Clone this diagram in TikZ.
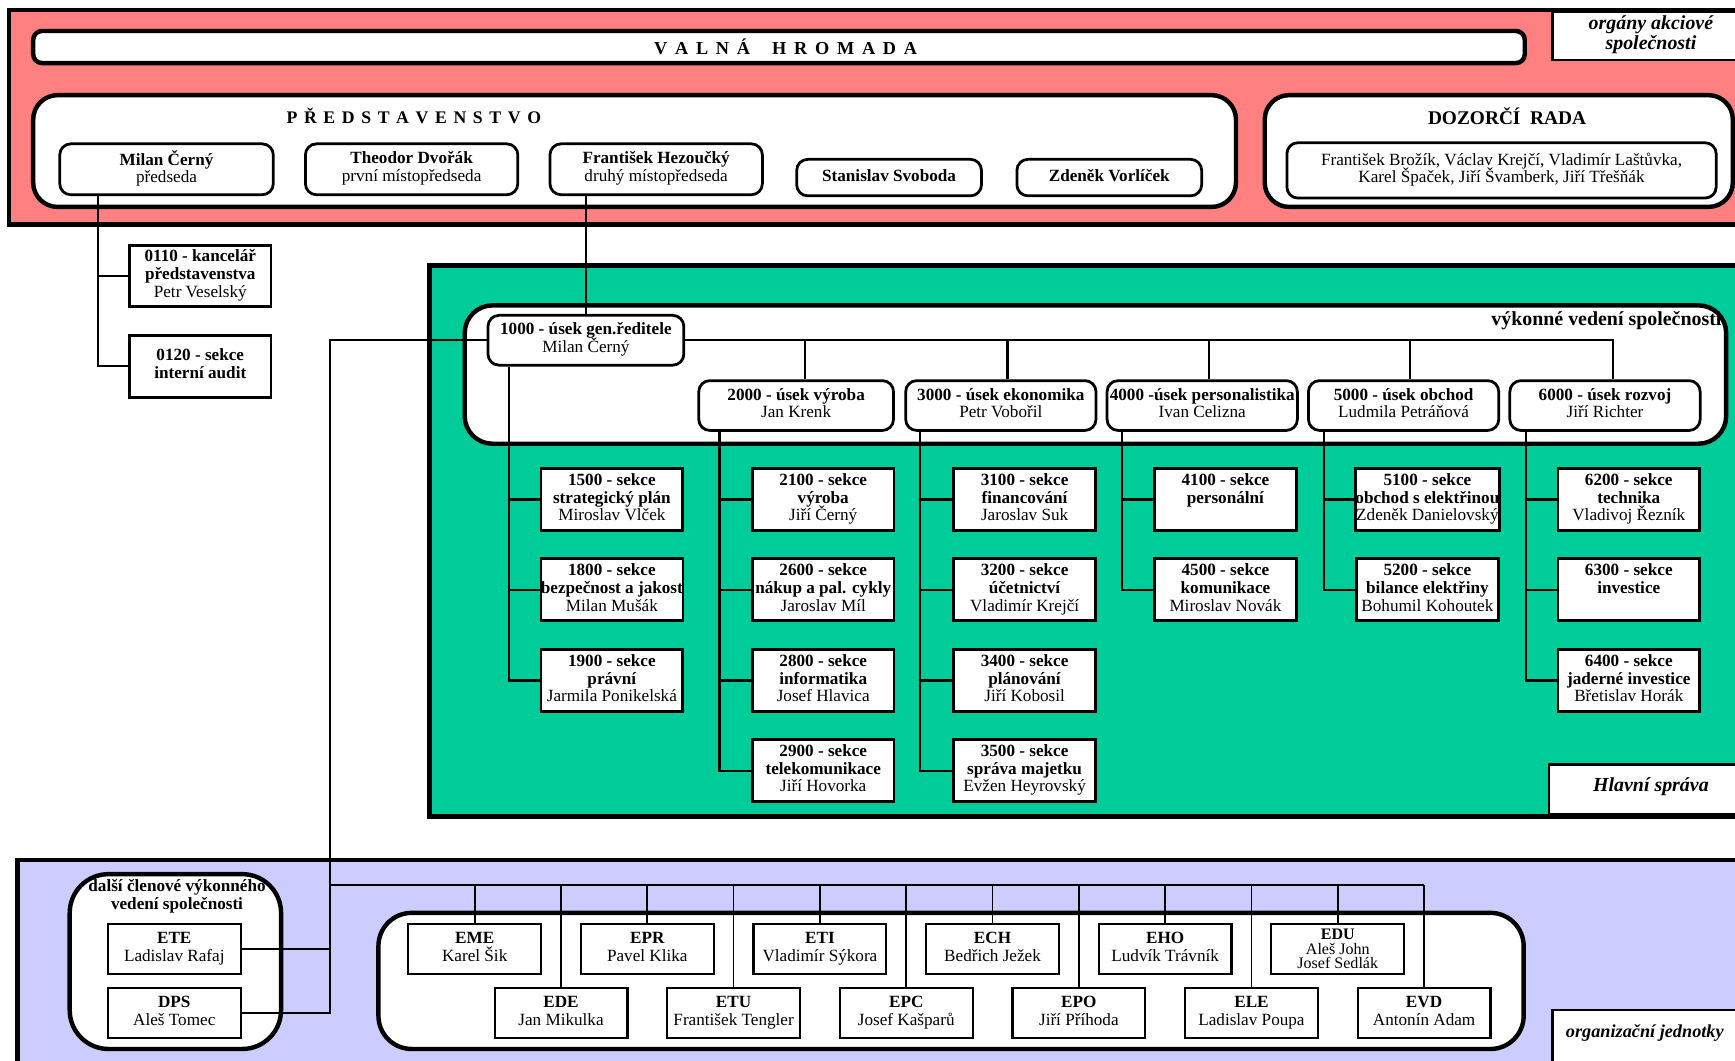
\documentclass[tikz,border=0pt]{standalone}
\usepackage{fontspec}
\setmainfont{Liberation Serif}
\usetikzlibrary{calc}
\definecolor{pinkbg}{HTML}{FF8080}
\definecolor{greenbg}{HTML}{00CC99}
\definecolor{lavbg}{HTML}{CCCCFF}
\lineskiplimit=-50pt
\lineskip=0pt
\newcommand\mybf[1]{\textbf{\strut #1}}
\newcommand\sectnode[6]{\node[sectbox] (#1) at (#2,#3) {\mybf{#4 - sekce}\\\mybf{#5}\\\strut #6};}
\newcommand\unitnode[5]{\node[unitbox] (#1) at (#2,#3) {\mybf{#4}\\\strut #5};}
\begin{document}
\begin{tikzpicture}[x=1pt,y=-1pt,
  font=\fontsize{15.5}{16}\selectfont,
  panel/.style={line width=4pt},
  cont/.style={draw, line width=4pt, fill=white},
  member/.style={draw, line width=2.5pt, rounded corners=10pt, fill=white, inner sep=0pt, align=center, minimum height=46pt},
  usek/.style={draw, line width=2.5pt, rounded corners=10pt, fill=white, inner sep=0pt, align=center, minimum height=45pt},
  sectbox/.style={draw, line width=2.5pt, fill=white, minimum width=128pt, minimum height=56pt, inner sep=0pt, align=center},
  unitbox/.style={draw, line width=2pt, fill=white, minimum width=120pt, minimum height=45pt, inner sep=0pt, align=center},
  labelbox/.style={draw, line width=2pt, fill=white},
  labeltext/.style={font=\fontsize{18}{18}\selectfont\bfseries\itshape, align=center},
  conn/.style={line width=2pt},
  thinconn/.style={line width=1.5pt}]
\useasboundingbox (0,0) rectangle (1568,958);
% ---------- panels ----------
\draw[panel, fill=pinkbg] (8,9) rectangle (1600,203);
\draw[panel, fill=greenbg] (388,240) rectangle (1600,738);
\draw[panel, fill=lavbg] (16,777) rectangle (1600,1000);
% ---------- corner labels ----------
\draw[labelbox] (1403,11) rectangle (1600,54);
\node[labeltext] (lblorg) at (1492,31) {orgány akciové\\společnosti};
\draw[labelbox] (1400,691) rectangle (1600,736);
\node[labeltext] (lblhs) at (1492,711) {Hlavní správa};
\draw[labelbox] (1403,913) rectangle (1600,1000);
\node[labeltext, font=\fontsize{16.5}{17}\selectfont\bfseries\itshape, anchor=west, inner sep=0pt] (lbloj) at (1415,934) {organizační jednotky};
% ---------- top ----------
\node[draw, line width=4pt, rounded corners=8pt, fill=white, minimum width=1348pt, minimum height=29pt, inner sep=0pt, font=\fontsize{16.5}{17}\selectfont] (vh) at (704,42.5)
  {\hspace{12pt}\textbf{V\hspace{7pt}A\hspace{7pt}L\hspace{7pt}N\hspace{7pt}Á\hspace{20pt}H\hspace{7pt}R\hspace{7pt}O\hspace{7pt}M\hspace{7pt}A\hspace{7pt}D\hspace{7pt}A}};
\draw[cont, rounded corners=22pt] (30,86) rectangle (1117,187);
\node[font=\fontsize{16}{16}\selectfont\bfseries] (pred) at (374,105)
  {P\hspace{6pt}Ř\hspace{6pt}E\hspace{6pt}D\hspace{6pt}S\hspace{6pt}T\hspace{6pt}A\hspace{6pt}V\hspace{6pt}E\hspace{6pt}N\hspace{6pt}S\hspace{6pt}T\hspace{6pt}V\hspace{6pt}O};
\node[member, minimum width=193pt] (m1) at (150.5,153) {\mybf{Milan Černý}\\\strut předseda};
\node[member, minimum width=192pt] (m2) at (372,153) {\mybf{Theodor Dvořák}\\\strut první místopředseda};
\node[member, minimum width=192pt] (m3) at (593,153) {\mybf{František Hezoučký}\\\strut druhý místopředseda};
\node[member, minimum width=167pt, minimum height=33pt] (m4) at (803.5,160.5) {\mybf{Stanislav Svoboda}};
\node[member, minimum width=167pt, minimum height=33pt] (m5) at (1002.5,160.5) {\mybf{Zdeněk Vorlíček}};
\draw[cont, rounded corners=22pt] (1143,86) rectangle (1566,187);
\node[font=\fontsize{17.5}{18}\selectfont\bfseries] (dr) at (1362,105) {DOZORČÍ\ \ RADA};
\node[member, minimum width=388pt, minimum height=50pt] (drm) at (1357,154)
  {\strut František Brožík, Václav Krejčí, Vladimír Laštůvka,\\\strut Karel Špaček, Jiří Švamberk, Jiří Třešňák};
% ---------- office boxes ----------
\node[sectbox, minimum height=55pt] (k0110) at (181,249.5) {\mybf{0110 - kancelář}\\\mybf{představenstva}\\\strut Petr Veselský};
\node[sectbox] (k0120) at (181,331) {\mybf{0120 - sekce}\\\mybf{interní audit}};
% ---------- executive ----------
\draw[cont, rounded corners=25pt] (420,276) rectangle (1560,401);
\node[font=\fontsize{18}{18}\selectfont\bfseries, anchor=east, inner sep=0pt] (vv) at (1556,290) {výkonné vedení společnosti};
\node[usek, minimum width=177pt] (u1000) at (529.5,307.5) {\mybf{1000 - úsek gen.ředitele}\\\strut Milan Černý};
\node[usek, minimum width=176pt] (u2000) at (719.5,366.5) {\mybf{2000 - úsek výroba}\\\strut Jan Krenk};
\node[usek, minimum width=172pt] (u3000) at (904.5,366.5) {\mybf{3000 - úsek ekonomika}\\\strut Petr Vobořil};
\node[usek, minimum width=172pt] (u4000) at (1086.5,366.5) {\mybf{4000 -úsek personalistika}\\\strut Ivan Celizna};
\node[usek, minimum width=172pt] (u5000) at (1268.5,366.5) {\mybf{5000 - úsek obchod}\\\strut Ludmila Petráňová};
\node[usek, minimum width=172pt] (u6000) at (1450.5,366.5) {\mybf{6000 - úsek rozvoj}\\\strut Jiří Richter};
% ---------- sections ----------
\sectnode{s1500}{553}{451.5}{1500}{strategický plán}{Miroslav Vlček}
\sectnode{s1800}{553}{533}{1800}{bezpečnost a jakost}{Milan Mušák}
\sectnode{s1900}{553}{615}{1900}{právní}{Jarmila Ponikelská}
\sectnode{s2100}{744}{451.5}{2100}{výroba}{Jiří Černý}
\sectnode{s2600}{744}{533}{2600}{nákup a pal. cykly}{Jaroslav Míl}
\sectnode{s2800}{744}{615}{2800}{informatika}{Josef Hlavica}
\sectnode{s2900}{744}{696.5}{2900}{telekomunikace}{Jiří Hovorka}
\sectnode{s3100}{926}{451.5}{3100}{financování}{Jaroslav Suk}
\sectnode{s3200}{926}{533}{3200}{účetnictví}{Vladimír Krejčí}
\sectnode{s3400}{926}{615}{3400}{plánování}{Jiří Kobosil}
\sectnode{s3500}{926}{696.5}{3500}{správa majetku}{Evžen Heyrovský}
\sectnode{s4100}{1107.5}{451.5}{4100}{personální}{}
\sectnode{s4500}{1107.5}{533}{4500}{komunikace}{Miroslav Novák}
\sectnode{s5100}{1290}{451.5}{5100}{obchod s elektřinou}{Zdeněk Danielovský}
\sectnode{s5200}{1290}{533}{5200}{bilance elektřiny}{Bohumil Kohoutek}
\sectnode{s6200}{1472}{451.5}{6200}{technika}{Vladivoj Řezník}
\sectnode{s6300}{1472}{533}{6300}{investice}{}
\sectnode{s6400}{1472}{615}{6400}{jaderné investice}{Břetislav Horák}
% ---------- bottom ----------
\draw[cont, rounded corners=35pt] (63,790) rectangle (254,948);
\node[font=\fontsize{15.5}{16}\selectfont\bfseries, align=center] (dc) at (160,810) {další členové výkonného\\vedení společnosti};
\unitnode{ete}{157.5}{857.5}{ETE}{Ladislav Rafaj}
\unitnode{dps}{157.5}{915.5}{DPS}{Aleš Tomec}
\draw[cont, rounded corners=30pt] (342,825) rectangle (1377,948);
\unitnode{eme}{429}{857.5}{EME}{Karel Šik}
\unitnode{epr}{585}{857.5}{EPR}{Pavel Klika}
\unitnode{eti}{741}{857.5}{ETI}{Vladimír Sýkora}
\unitnode{ech}{897}{857.5}{ECH}{Bedřich Ježek}
\unitnode{eho}{1053}{857.5}{EHO}{Ludvík Trávník}
\node[unitbox, font=\fontsize{14.5}{13.5}\selectfont] (edu) at (1209,857.5) {\textbf{EDU}\\Aleš John\\Josef Sedlák};
\unitnode{ede}{507}{915.5}{EDE}{Jan Mikulka}
\unitnode{etu}{663}{915.5}{ETU}{František Tengler}
\unitnode{epc}{819}{915.5}{EPC}{Josef Kašparů}
\unitnode{epo}{975}{915.5}{EPO}{Jiří Příhoda}
\unitnode{ele}{1131}{915.5}{ELE}{Ladislav Poupa}
\unitnode{evd}{1287}{915.5}{EVD}{Antonín Adam}
% ---------- connectors ----------
\draw[conn] ($(m1.south west)+(36,0)$) |- (k0110.west);
\draw[conn] ($(m1.south west)+(36,0)$) |- (k0120.west);
\draw[conn] (u1000.north) -- (u1000.north |- m3.south);
\draw[conn] (u1000.east) -| ($(u2000.north)+(8,0)$);
\draw[conn] (u1000.east) -| ($(u3000.north)+(6,0)$);
\draw[conn] (u1000.east) -| ($(u4000.north)+(6,0)$);
\draw[conn] (u1000.east) -| ($(u5000.north)+(6,0)$);
\draw[conn] (u1000.east) -| ($(u6000.north)+(7,0)$);
\foreach \s in {s1500,s1800,s1900} \draw[conn] ($(u1000.south west)+(20,0)$) |- (\s.west);
\foreach \s in {s2100,s2600,s2800,s2900} \draw[conn] ($(u2000.south west)+(20,0)$) |- (\s.west);
\foreach \s in {s3100,s3200,s3400,s3500} \draw[conn] ($(u3000.south west)+(14,0)$) |- (\s.west);
\foreach \s in {s4100,s4500} \draw[conn] ($(u4000.south west)+(15,0)$) |- (\s.west);
\foreach \s in {s5100,s5200} \draw[conn] ($(u5000.south west)+(15,0)$) |- (\s.west);
\foreach \s in {s6200,s6300,s6400} \draw[conn] ($(u6000.south west)+(16,0)$) |- (\s.west);
\coordinate (vl) at (298,309);
\draw[conn] (u1000.west) -- (vl |- u1000.west) -- (vl |- dps.east) -- (dps.east);
\draw[conn] (ete.east) -- (vl |- ete.east);
\coordinate (bus) at (298,800);
\draw[thinconn] (bus) -- (bus -| evd.north);
\foreach \u in {eme,epr,eti,ech,eho,edu,ede,etu,epc,epo,ele,evd} \draw[thinconn] (\u.north) -- (\u.north |- bus);
\end{tikzpicture}
\end{document}
